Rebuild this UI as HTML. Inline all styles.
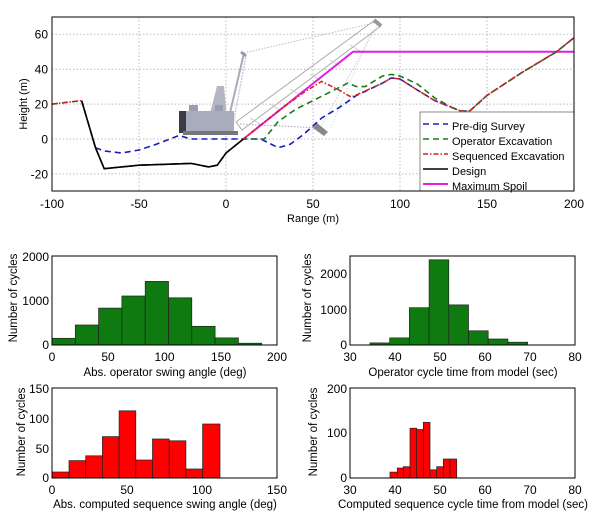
<!DOCTYPE html>
<html><head><meta charset="utf-8"><style>
html,body{margin:0;padding:0;background:#fff;}
svg{display:block;font-family:"Liberation Sans",sans-serif;}
</style></head><body>
<svg width="600" height="518" viewBox="0 0 600 518" xmlns="http://www.w3.org/2000/svg">
<rect width="600" height="518" fill="#fff"/>
<!-- TOP PLOT -->
<g stroke="#bbb" stroke-width="1" stroke-dasharray="1.5,2">
<line x1="139" y1="17" x2="139" y2="191"/><line x1="226" y1="17" x2="226" y2="191"/><line x1="313" y1="17" x2="313" y2="191"/><line x1="400" y1="17" x2="400" y2="191"/><line x1="487" y1="17" x2="487" y2="191"/>
<line x1="52" y1="34.3" x2="574" y2="34.3"/><line x1="52" y1="69.2" x2="574" y2="69.2"/><line x1="52" y1="104.1" x2="574" y2="104.1"/><line x1="52" y1="139" x2="574" y2="139"/><line x1="52" y1="173.9" x2="574" y2="173.9"/>
</g>
<!-- dragline -->
<g>
<line x1="244" y1="53" x2="378" y2="22" stroke="#bbb" stroke-width="1" stroke-dasharray="1.5,1.5"/>
<line x1="378" y1="24" x2="320" y2="128" stroke="#ccc" stroke-width="1" stroke-dasharray="1.5,1.5"/>
<line x1="372" y1="30" x2="330" y2="130" stroke="#ddd" stroke-width="1" stroke-dasharray="1.5,1.5"/>
<line x1="240" y1="124" x2="320" y2="128" stroke="#aaa" stroke-width="1" stroke-dasharray="1.5,1.5"/>
<polygon points="236,122 375,20 381,26 242,130" fill="none" stroke="#aaa" stroke-width="1"/>
<path d="M250,118 L260,124 M270,104 L280,110 M290,89 L300,95 M310,74 L320,80 M330,60 L340,66 M350,45 L360,51" stroke="#ccc" stroke-width="1"/>
<line x1="374" y1="20" x2="381" y2="26" stroke="#999" stroke-width="4"/>
<line x1="226" y1="130" x2="244" y2="53" stroke="#aab" stroke-width="2"/>
<line x1="232" y1="130" x2="246" y2="56" stroke="#ccd" stroke-width="1.5" stroke-dasharray="2,1"/>
<line x1="241" y1="52" x2="246" y2="56" stroke="#99a" stroke-width="3"/>
<polygon points="205,133 217,86 224,86 228,130" fill="#b4b6c4"/>
<rect x="179" y="111" width="55" height="22" fill="#a9acbd"/>
<rect x="179" y="111" width="7" height="22" fill="#3c3c44"/>
<rect x="189" y="105" width="9" height="6" fill="#9a9db0"/>
<rect x="215" y="105" width="8" height="6" fill="#9a9db0"/>
<rect x="183" y="131" width="55" height="4" fill="#777"/>
<polygon points="313,128 317,123 328,132 324,136" fill="#888"/>
</g>
<!-- series -->
<polyline fill="none" stroke="#e020e0" stroke-width="2" points="243.4,139 353,51.7 574,51.7"/>
<polyline fill="none" stroke="#1a1abf" stroke-width="1.6" stroke-dasharray="6,4" points="95.5,147.7 104.2,151 121.6,153 139,150 156.4,144.2 179,135.5 191.2,139 226,139 260.8,139 278.2,147.7 290.4,144.2 304.3,133.8 321.7,118 339.1,107.6 356.5,95.4 382.6,83.1 391.3,77.9 400,79 417.4,90.1 434.8,100.6 452.2,107.6 460.9,111.1 469.6,111.1 487,95.4 521.8,72.6 556.6,51.7 574,37.7"/>
<polyline fill="none" stroke="#1a7a1a" stroke-width="1.6" stroke-dasharray="6,4" points="52,104.1 81.6,100.6 95.5,147.7 104.2,168.7 139,165.2 191.2,163.4 208.6,166.9 217.3,165.2 226,153 243.4,139 264.3,139 278.2,121.5 295.6,109.3 313,100.6 330.4,91.9 347.8,83.1 356.5,86.6 365.2,86.6 382.6,76 391.3,74.4 400,76 417.4,84 434.8,98 452.2,107.6 460.9,111.1 469.6,111.1 487,95.4 521.8,72.6 556.6,51.7 574,37.7"/>
<polyline fill="none" stroke="#d02020" stroke-width="1.5" stroke-dasharray="5,2,1.5,2" points="52,104.1 81.6,100.6 95.5,147.7 104.2,168.7 139,165.2 191.2,163.4 208.6,166.9 217.3,165.2 226,153 243.4,139 278.2,111 304.3,92 321.7,81.4 339.1,90.1 351.3,97.1 365.2,91 382.6,83.1 391.3,77.9 400,79 417.4,90.1 434.8,100.6 452.2,107.6 460.9,111.1 469.6,111.1 487,95.4 521.8,72.6 556.6,51.7 574,37.7"/>
<polyline fill="none" stroke="#000" stroke-width="1.6" points="81.6,100.6 95.5,147.7 104.2,168.7 139,165.2 191.2,163.4 208.6,166.9 217.3,165.2 226,153 243.4,139"/>
<!-- legend -->
<rect x="420" y="112" width="154" height="79" fill="#fff" stroke="#888" stroke-width="1"/>
<g stroke-width="1.6" fill="none">
<line x1="423" y1="124" x2="448" y2="124" stroke="#1a1abf" stroke-dasharray="6,4"/>
<line x1="423" y1="139" x2="448" y2="139" stroke="#1a7a1a" stroke-dasharray="6,4"/>
<line x1="423" y1="154" x2="448" y2="154" stroke="#d02020" stroke-dasharray="5,2,1.5,2"/>
<line x1="423" y1="169" x2="448" y2="169" stroke="#000"/>
<line x1="423" y1="184" x2="448" y2="184" stroke="#e020e0" stroke-width="2"/>
</g>
<g font-size="11" fill="#000">
<text x="452" y="130">Pre-dig Survey</text>
<text x="452" y="145">Operator Excavation</text>
<text x="452" y="160">Sequenced Excavation</text>
<text x="452" y="175">Design</text>
<text x="452" y="190">Maximum Spoil</text>
</g>
<rect x="52" y="17" width="522" height="174" fill="none" stroke="#000" stroke-width="1"/>
<g font-size="12" fill="#000" text-anchor="end">
<text x="48" y="38.5">60</text><text x="48" y="73.5">40</text><text x="48" y="108.5">20</text><text x="48" y="143.5">0</text><text x="48" y="178.5">-20</text>
</g>
<g font-size="12" fill="#000" text-anchor="middle">
<text x="52" y="208">-100</text><text x="139" y="208">-50</text><text x="226" y="208">0</text><text x="313" y="208">50</text><text x="400" y="208">100</text><text x="487" y="208">150</text><text x="574" y="208">200</text>
<text x="313" y="222" font-size="11">Range (m)</text>
<text transform="translate(27,104) rotate(-90)" font-size="11">Height (m)</text>
</g>

<!-- HIST TL -->
<g fill="#0f7a0f" stroke="#222" stroke-width="0.7">
<rect x="52" y="338.3" width="23.3" height="6.7"/><rect x="75.3" y="325" width="23.3" height="20"/><rect x="98.6" y="308.1" width="23.3" height="36.9"/><rect x="121.9" y="296" width="23.3" height="49"/><rect x="145.2" y="281.4" width="23.3" height="63.6"/><rect x="168.5" y="297.8" width="23.3" height="47.2"/><rect x="191.8" y="326.3" width="23.3" height="18.7"/><rect x="215.1" y="337.9" width="23.3" height="7.1"/><rect x="238.4" y="343.2" width="23.3" height="1.8"/>
</g>
<rect x="52" y="256" width="225" height="89" fill="none" stroke="#000"/>
<!-- HIST TR -->
<g fill="#0f7a0f" stroke="#222" stroke-width="0.7">
<rect x="370" y="342.9" width="19.7" height="2.1"/><rect x="389.7" y="337.9" width="19.7" height="7.1"/><rect x="409.4" y="307.7" width="19.7" height="37.3"/><rect x="429.1" y="259.8" width="19.7" height="85.2"/><rect x="448.8" y="304.9" width="19.7" height="40.1"/><rect x="468.5" y="330.8" width="19.7" height="14.2"/><rect x="488.2" y="339" width="19.7" height="6"/><rect x="507.9" y="342.2" width="19.7" height="2.8"/>
</g>
<rect x="350" y="256" width="225" height="89" fill="none" stroke="#000"/>
<!-- HIST BL -->
<g fill="#f00" stroke="#222" stroke-width="0.7">
<rect x="52.3" y="472" width="16.7" height="6"/><rect x="69" y="460.6" width="16.7" height="17.4"/><rect x="85.7" y="455.8" width="16.7" height="22.2"/><rect x="102.4" y="436.6" width="16.7" height="41.4"/><rect x="119.1" y="410.8" width="16.7" height="67.2"/><rect x="135.8" y="460" width="16.7" height="18"/><rect x="152.5" y="439" width="16.7" height="39"/><rect x="169.2" y="440.8" width="16.7" height="37.2"/><rect x="185.9" y="469" width="16.7" height="9"/><rect x="202.6" y="424" width="17.4" height="54"/>
</g>
<rect x="52" y="388" width="225" height="90" fill="none" stroke="#000"/>
<!-- HIST BR -->
<g fill="#f00" stroke="#222" stroke-width="0.7">
<rect x="390" y="472.1" width="7.3" height="5.9"/><rect x="397.3" y="468" width="6" height="10"/><rect x="403.3" y="466.7" width="6.7" height="11.3"/><rect x="410" y="428.2" width="6.7" height="49.8"/><rect x="416.7" y="429.5" width="6.6" height="48.5"/><rect x="423.3" y="422.3" width="6.7" height="55.7"/><rect x="430" y="469.8" width="6.7" height="8.2"/><rect x="436.7" y="466.7" width="6.6" height="11.3"/><rect x="443.3" y="459" width="6.7" height="19"/><rect x="450" y="459" width="6.7" height="19"/>
</g>
<rect x="350" y="388" width="225" height="90" fill="none" stroke="#000"/>

<g font-size="12" fill="#000" text-anchor="end">
<text x="49" y="261">2000</text><text x="49" y="305">1000</text><text x="49" y="349">0</text>
<text x="347" y="278">2000</text><text x="347" y="314">1000</text><text x="347" y="349">0</text>
<text x="49" y="393">150</text><text x="49" y="423">100</text><text x="49" y="453">50</text><text x="49" y="482">0</text>
<text x="347" y="393">200</text><text x="347" y="437">100</text><text x="347" y="482">0</text>
</g>
<g font-size="12" fill="#000" text-anchor="middle">
<text x="52" y="361">0</text><text x="108" y="361">50</text><text x="164.5" y="361">100</text><text x="221" y="361">150</text><text x="277" y="361">200</text>
<text x="350" y="361">30</text><text x="395" y="361">40</text><text x="440" y="361">50</text><text x="485" y="361">60</text><text x="530" y="361">70</text><text x="575" y="361">80</text>
<text x="52" y="494">0</text><text x="127" y="494">50</text><text x="202" y="494">100</text><text x="277" y="494">150</text>
<text x="350" y="494">30</text><text x="395" y="494">40</text><text x="440" y="494">50</text><text x="485" y="494">60</text><text x="530" y="494">70</text><text x="575" y="494">80</text>
<text x="165" y="376" font-size="11.5">Abs. operator swing angle (deg)</text>
<text x="463" y="376" font-size="11.5">Operator cycle time from model (sec)</text>
<text x="165" y="508" font-size="11.5">Abs. computed sequence swing angle (deg)</text>
<text x="463" y="508" font-size="11.5">Computed sequence cycle time from model (sec)</text>
<text transform="translate(17,298) rotate(-90)" font-size="11.5">Number of cycles</text>
<text transform="translate(311,298) rotate(-90)" font-size="11.5">Number of cycles</text>
<text transform="translate(25,432) rotate(-90)" font-size="11.5">Number of cycles</text>
<text transform="translate(317,432) rotate(-90)" font-size="11.5">Number of cycles</text>
</g>
</svg>
</body></html>
